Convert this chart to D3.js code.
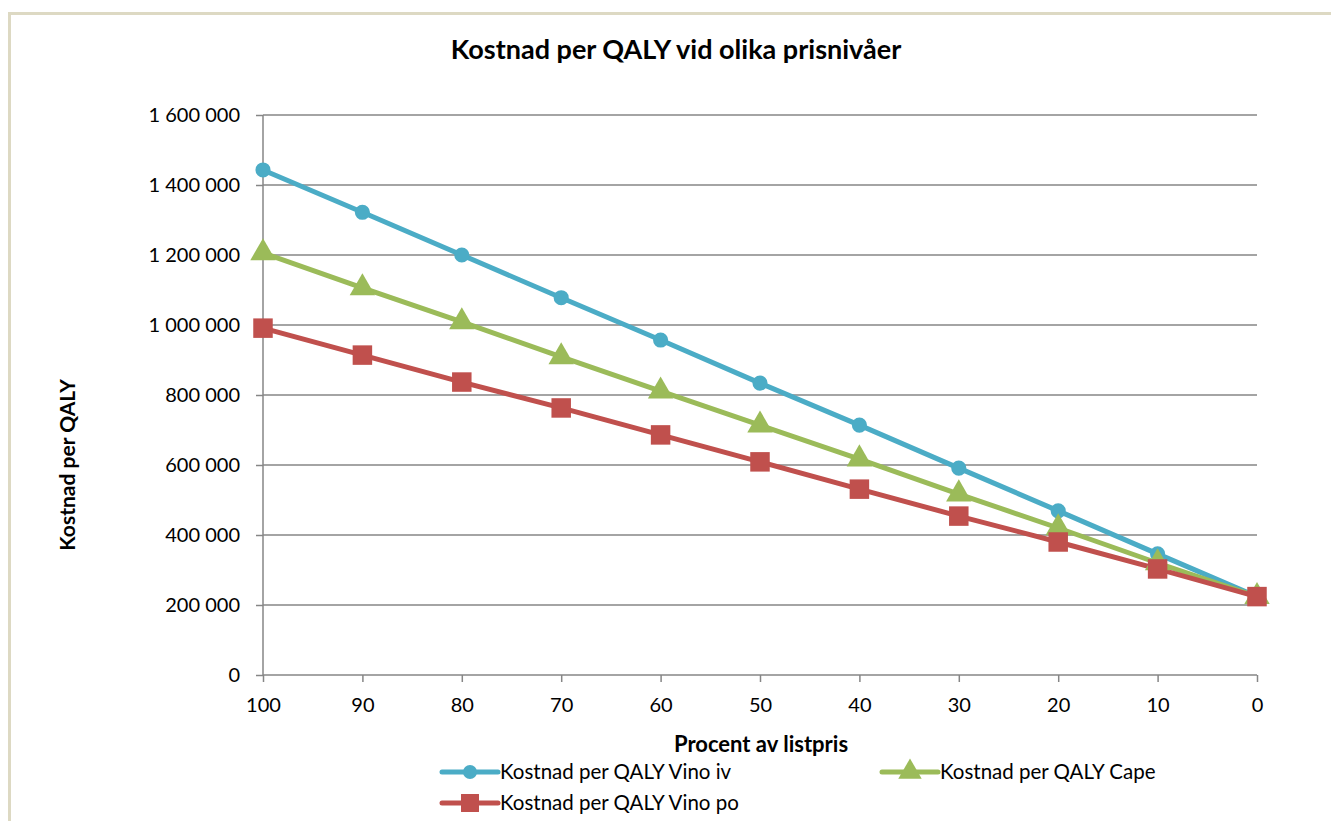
<!DOCTYPE html>
<html lang="sv">
<head>
<meta charset="utf-8">
<title>Kostnad per QALY</title>
<script src="https://cdn.jsdelivr.net/npm/d3@7"></script>
<style>
  body { margin: 0; background: #fff; }
  text { font-family: Lato, "Open Sans", sans-serif; fill: #000; }
</style>
</head>
<body>
<div id="chart"></div>
<script>
// data
var categories = [100, 90, 80, 70, 60, 50, 40, 30, 20, 10, 0];
var vinoIv  = [1443000, 1322000, 1200000, 1078000, 957000, 834000, 714000, 591000, 469000, 346000, 224000];
var cape    = [1206000, 1106000, 1009000, 909000, 811000, 714000, 617000, 517000, 420000, 320000, 224000];
var vinoPo  = [991000, 914000, 837000, 763000, 686000, 609000, 531000, 454000, 380000, 303000, 224000];
var yTicks  = [0, 200000, 400000, 600000, 800000, 1000000, 1200000, 1400000, 1600000];
var seriesNames = ["Kostnad per QALY Vino iv", "Kostnad per QALY Cape", "Kostnad per QALY Vino po"];

var w = 1331, h = 821;
var pLeft = 263, pRight = 1257, pTop = 115, pBottom = 675;
var colors = ["#4bacc6", "#9bbb59", "#c0504d"];
var symbols = [d3.symbolCircle, d3.symbolTriangle, d3.symbolSquare];
var symSize = [180, 280, 380];

var svg = d3.select("#chart").append("svg")
    .attr("width", w).attr("height", h);

// outer frame
svg.append("path")
    .attr("d", "M9.5," + h + " V13.5 H" + w)
    .attr("fill", "none")
    .attr("stroke", "#ddd9c3")
    .attr("stroke-width", 3);

var x = d3.scalePoint().domain(categories).range([pLeft, pRight]);
var y = d3.scaleLinear().domain([0, 1600000]).range([pBottom, pTop]);

// gridlines
svg.append("g").selectAll("line")
    .data(yTicks.filter(function(d) { return d > 0; }))
    .enter().append("line")
    .attr("x1", pLeft).attr("x2", pRight)
    .attr("y1", function(d) { return y(d); })
    .attr("y2", function(d) { return y(d); })
    .attr("stroke", "#868686")
    .attr("stroke-width", 1.5);

var fmt = function(d) { return d3.format(",")(d).replace(/,/g, " "); };

var yAxis = d3.axisLeft(y).tickValues(yTicks).tickFormat(fmt).tickSize(7).tickPadding(16);
var gy = svg.append("g").attr("transform", "translate(" + pLeft + ",0)").call(yAxis);

var xAxis = d3.axisBottom(x).tickSize(7).tickPadding(16);
var gx = svg.append("g").attr("transform", "translate(0," + pBottom + ")").call(xAxis);

[gx, gy].forEach(function(g) {
  g.selectAll("path, line").attr("stroke", "#868686").attr("stroke-width", 1.5);
  g.selectAll("text").attr("font-size", 20).attr("fill", "#000")
    .style("font-family", "Lato, 'Open Sans', sans-serif");
});
gx.select(".domain").attr("d", "M" + pLeft + ",0H" + pRight);
gy.select(".domain").attr("d", "M0," + pTop + "V" + pBottom);

// lines and markers
var allSeries = [vinoIv, cape, vinoPo];
var line = d3.line()
    .x(function(d, i) { return x(categories[i]); })
    .y(function(d) { return y(d); });

allSeries.forEach(function(vals, s) {
  svg.append("path")
    .datum(vals)
    .attr("d", line)
    .attr("fill", "none")
    .attr("stroke", colors[s])
    .attr("stroke-width", 5)
    .attr("stroke-linejoin", "round");
});
allSeries.forEach(function(vals, s) {
  svg.append("g").selectAll("path")
    .data(vals)
    .enter().append("path")
    .attr("d", d3.symbol().type(symbols[s]).size(symSize[s]))
    .attr("transform", function(d, i) { return "translate(" + x(categories[i]) + "," + y(d) + ")"; })
    .attr("fill", colors[s]);
});

// titles
svg.append("text")
    .attr("x", 676).attr("y", 59)
    .attr("text-anchor", "middle")
    .attr("font-size", 27).attr("font-weight", "bold")
    .text("Kostnad per QALY vid olika prisnivåer");

svg.append("text")
    .attr("transform", "translate(75,465) rotate(-90)")
    .attr("text-anchor", "middle")
    .attr("font-size", 21).attr("font-weight", "bold")
    .text("Kostnad per QALY");

svg.append("text")
    .attr("x", 761).attr("y", 752)
    .attr("text-anchor", "middle")
    .attr("font-size", 22).attr("font-weight", "bold")
    .text("Procent av listpris");

// legend
var legendPos = [[442, 772], [882, 772], [442, 803]];
seriesNames.forEach(function(name, s) {
  var g = svg.append("g").attr("transform", "translate(" + legendPos[s][0] + "," + legendPos[s][1] + ")");
  g.append("line").attr("x1", 0).attr("x2", 56).attr("y1", 0).attr("y2", 0)
    .attr("stroke", colors[s]).attr("stroke-width", 5).attr("stroke-linecap", "round");
  g.append("path").attr("d", d3.symbol().type(symbols[s]).size(symSize[s] * 0.85))
    .attr("transform", "translate(28,0)").attr("fill", colors[s]);
  g.append("text").attr("x", 58).attr("y", 7).attr("font-size", 20.5).text(name);
});
</script>
</body>
</html>
